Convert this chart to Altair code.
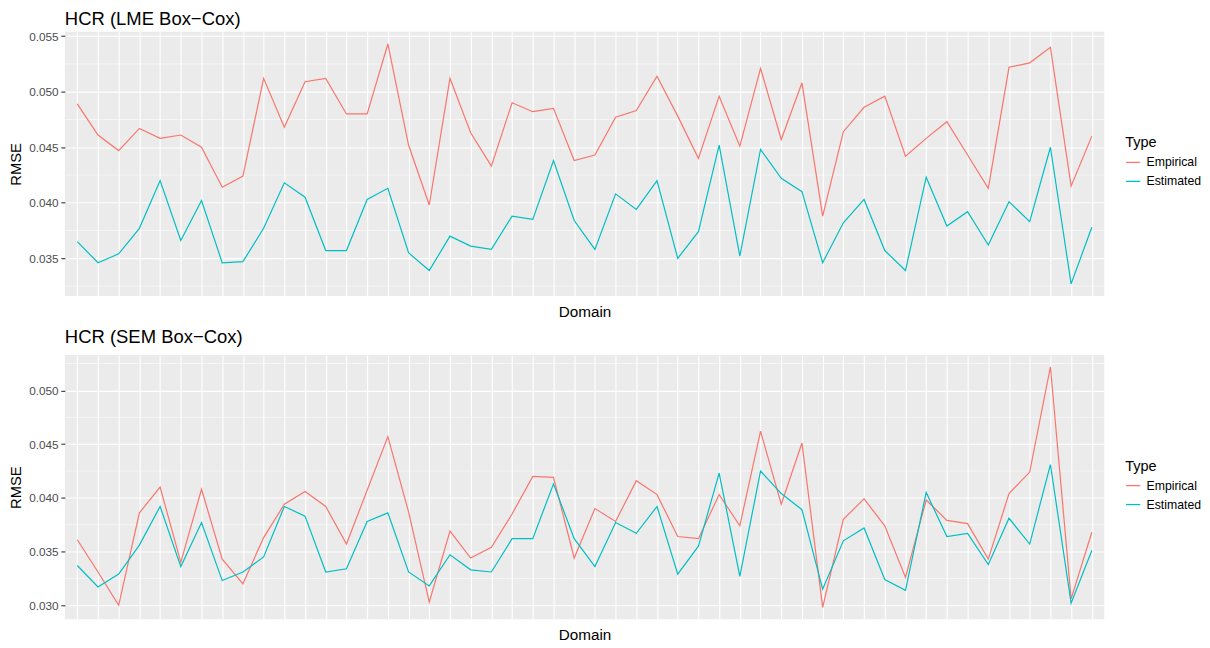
import altair as alt
import pandas as pd

domains = list(range(1, 51))
types = ["Empirical", "Estimated"]
colors = ["#F8766D", "#00BFC4"]

top_title = "HCR (LME Box\u2212Cox)"
bot_title = "HCR (SEM Box\u2212Cox)"

top_emp = [0.0489, 0.0461, 0.0447, 0.0467, 0.0458, 0.0461, 0.0450, 0.0414, 0.0424, 0.0512,
           0.0468, 0.0509, 0.0512, 0.0480, 0.0480, 0.0543, 0.0452, 0.0398, 0.0512, 0.0463,
           0.0433, 0.0490, 0.0482, 0.0485, 0.0438, 0.0443, 0.0477, 0.0483, 0.0514, 0.0478,
           0.0440, 0.0496, 0.0451, 0.0521, 0.0457, 0.0508, 0.0388, 0.0464, 0.0486, 0.0496,
           0.0442, 0.0458, 0.0473, 0.0443, 0.0413, 0.0522, 0.0526, 0.0540, 0.0415, 0.0460]
top_est = [0.0365, 0.0346, 0.0354, 0.0377, 0.0420, 0.0366, 0.0402, 0.0346, 0.0347, 0.0377,
           0.0418, 0.0405, 0.0357, 0.0357, 0.0403, 0.0413, 0.0355, 0.0339, 0.0370, 0.0361,
           0.0358, 0.0388, 0.0385, 0.0438, 0.0384, 0.0358, 0.0408, 0.0394, 0.0420, 0.0350,
           0.0374, 0.0452, 0.0352, 0.0448, 0.0422, 0.0410, 0.0346, 0.0382, 0.0403, 0.0357,
           0.0339, 0.0423, 0.0379, 0.0392, 0.0362, 0.0401, 0.0383, 0.0450, 0.0327, 0.0378]
bot_emp = [0.0361, 0.0331, 0.0300, 0.0386, 0.0410, 0.0340, 0.0408, 0.0343, 0.0320, 0.0363,
           0.0394, 0.0406, 0.0392, 0.0357, 0.0407, 0.0457, 0.0387, 0.0303, 0.0369, 0.0344,
           0.0354, 0.0385, 0.0420, 0.0419, 0.0344, 0.0390, 0.0378, 0.0416, 0.0403, 0.0364,
           0.0362, 0.0403, 0.0374, 0.0462, 0.0394, 0.0451, 0.0298, 0.0380, 0.0399, 0.0374,
           0.0326, 0.0398, 0.0379, 0.0376, 0.0343, 0.0404, 0.0424, 0.0522, 0.0306, 0.0368]
bot_est = [0.0337, 0.0317, 0.0329, 0.0356, 0.0392, 0.0336, 0.0377, 0.0323, 0.0331, 0.0345,
           0.0392, 0.0383, 0.0331, 0.0334, 0.0378, 0.0386, 0.0331, 0.0318, 0.0347, 0.0333,
           0.0331, 0.0362, 0.0362, 0.0413, 0.0362, 0.0336, 0.0377, 0.0367, 0.0392, 0.0329,
           0.0355, 0.0423, 0.0327, 0.0425, 0.0404, 0.0389, 0.0315, 0.0360, 0.0372, 0.0324,
           0.0314, 0.0405, 0.0364, 0.0367, 0.0338, 0.0381, 0.0357, 0.0431, 0.0302, 0.0351]

top_domain = [0.0316, 0.0554]
bot_domain = [0.0287, 0.0533]
top_major = [0.035, 0.040, 0.045, 0.050, 0.055]
bot_major = [0.030, 0.035, 0.040, 0.045, 0.050]
top_minor = [0.0325, 0.0375, 0.0425, 0.0475, 0.0525]
bot_minor = [0.0325, 0.0375, 0.0425, 0.0475, 0.0525]

FONT = "Liberation Sans"


def panel(title, emp, est, ydom, major, minor, title_offset):
    df = pd.DataFrame({
        "Domain": domains + domains,
        "RMSE": emp + est,
        "Type": [types[0]] * len(emp) + [types[1]] * len(est),
    })
    yscale = alt.Scale(domain=ydom, nice=False, zero=False)
    yaxis = alt.Axis(values=major, format=".3f", title="RMSE",
                     grid=True, gridColor="white", gridWidth=1.1,
                     domain=False, ticks=True, tickColor="#333333",
                     tickSize=4, tickWidth=1.1, labelPadding=2.7,
                     labelFontSize=11.8, labelColor="#4D4D4D",
                     labelFont=FONT, titleFont=FONT,
                     titleFontSize=14.8, titleFontWeight="normal",
                     titleColor="black", titlePadding=5)
    xenc = alt.X(
        "Domain:O",
        scale=alt.Scale(type="point", padding=0.6),
        axis=alt.Axis(labels=False, ticks=False, domain=False, grid=True,
                      gridColor="white", gridWidth=1.1, title="Domain",
                      titleFontSize=15.3, titlePadding=8, titleFontWeight="normal",
                      titleColor="black", titleFont=FONT),
    )
    minor_layer = alt.Chart(pd.DataFrame({"RMSE": minor})).mark_rule(
        color="white", strokeWidth=0.55
    ).encode(y=alt.Y("RMSE:Q", scale=yscale, axis=yaxis))
    lines = alt.Chart(df).mark_line(strokeWidth=1.2).encode(
        x=xenc,
        y=alt.Y("RMSE:Q", scale=yscale, axis=yaxis),
        color=alt.Color("Type:N",
                        scale=alt.Scale(domain=types, range=colors),
                        legend=alt.Legend(title="Type", orient="none",
                                          legendX=1063, legendY=105,
                                          titleFontSize=14.5, titleFontWeight="normal",
                                          titleColor="black", titleFont=FONT,
                                          labelFontSize=12.3, labelFont=FONT,
                                          labelColor="black",
                                          symbolType="stroke", symbolStrokeWidth=1.3,
                                          symbolSize=204, rowPadding=4,
                                          labelOffset=5.4, titlePadding=3.5)),
    )
    return alt.layer(minor_layer, lines).properties(
        width=1042,
        height=265,
        title=alt.TitleParams(title, anchor="start", frame="group", fontSize=18.5,
                              fontWeight="normal", color="black",
                              offset=title_offset, font=FONT),
    )


chart = alt.vconcat(
    panel(top_title, top_emp, top_est, top_domain, top_major, top_minor, 3),
    panel(bot_title, bot_emp, bot_est, bot_domain, bot_major, bot_minor, 8),
    spacing=8,
).resolve_scale(color="independent", y="independent", x="independent").resolve_legend(
    color="independent"
).properties(
    padding={"left": 0, "top": 0, "right": 0, "bottom": 0}
).configure(
    font=FONT, background="white"
).configure_view(
    fill="#EBEBEB", stroke=None
)

chart.save("out.html", embed_options={"renderer": "svg", "actions": False})
